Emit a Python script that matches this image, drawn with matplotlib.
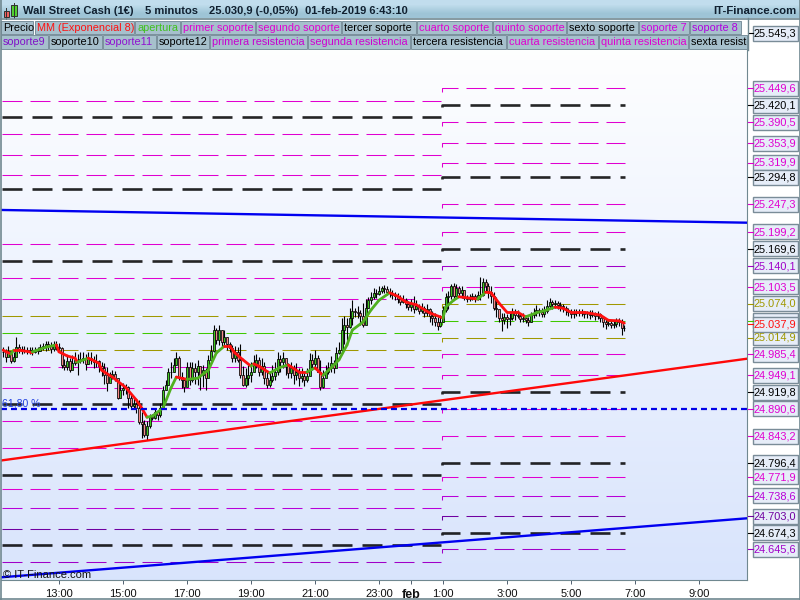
import numpy as np
import matplotlib
matplotlib.use('Agg')
import matplotlib.pyplot as plt
from matplotlib.patches import Rectangle
from matplotlib.transforms import Bbox, TransformedBbox

plt.rcParams['font.family'] = ['Liberation Sans', 'DejaVu Sans']
plt.rcParams['lines.scale_dashes'] = False

# ----- 5 minute bars, first bar 11:15 (hours relative to 1 feb 0:00) -----
first_bar = -12.75
closes = [24990,24981,24991,24974,24981,24998, 24995,24991,24993,24991,24993,24990,
          24993,24991,24998,25000,25004,25000, 24995,25004,24998,24997,24967,24963,
          24974,24958,24970,24976,24974,24977, 24979,24969,24979,24976,24972,24974,
          24965,24962,24949,24935,24946,24951, 24944,24909,24923,24927,24928,24909,
          24895,24899,24892,24867,24864,24845, 24860,24876,24874,24885,24879,24892,
          24923,24932,24955,24955,24967,24979, 24946,24941,24928,24963,24941,24962,
          24955,24965,24949,24958,24944,24976, 24991,25028,25011,25028,25007,25016,
          25004,24997,24979,24990,24976,24949, 24932,24944,24949,24955,24967,24976,
          24955,24965,24944,24932,24941,24948, 24955,24977,24972,24979,24969,24953,
          24962,24949,24955,24944,24948,24941, 24948,24976,24969,24979,24955,24928,
          24944,24955,24962,24970,24962,24988, 24993,25028,25037,25033,25049,25061,
          25059,25058,25052,25037,25066,25080, 25086,25093,25091,25096,25101,25100,
          25094,25093,25089,25087,25082,25077, 25080,25073,25068,25073,25065,25070,
          25061,25066,25058,25065,25052,25049, 25042,25035,25042,25063,25086,25087,
          25105,25087,25101,25093,25098,25084, 25082,25086,25087,25082,25089,25089,
          25112,25105,25094,25087,25066,25065, 25049,25045,25051,25047,25049,25059,
          25054,25052,25047,25049,25045,25042, 25054,25058,25063,25059,25056,25061,
          25070,25077,25073,25075,25072,25070, 25066,25063,25059,25056,25058,25059,
          25058,25059,25056,25056,25054,25058, 25052,25056,25049,25042,25038,25040,
          25037,25038,25044,25042,25031,25030.9]
highs = [24998,24995,25000,24984,24990,25016, 25004,25000,25000,24998,24998,24998,
         24998,24998,25004,25005,25009,25009, 25007,25009,25009,25005,24998,24977,
         24984,24979,24984,24990,24986,24990, 24990,24986,24990,24990,24983,24986,
         24976,24972,24970,24963,24955,24958, 24956,24944,24935,24935,24934,24930,
         24916,24909,24902,24906,24885,24871, 24869,24881,24881,24892,24888,24900,
         24930,24941,24962,24972,24979,24990, 24983,24955,24944,24972,24972,24972,
         24970,24976,24965,24967,24962,24984, 25002,25037,25031,25037,25028,25028,
         25016,25007,25002,25000,24998,25004, 24965,24962,24967,24972,24984,24986,
         24981,24979,24972,24958,24955,24967, 24972,24990,24984,24990,24979,24970,
         24972,24967,24970,24962,24962,24953, 24962,24988,24986,24993,24984,24976,
         24958,24967,24972,24983,24976,24998, 25007,25049,25052,25049,25066,25080,
         25066,25070,25063,25075,25082,25086, 25094,25101,25100,25105,25105,25107,
         25105,25101,25098,25094,25093,25089, 25089,25084,25079,25082,25087,25080,
         25073,25075,25070,25073,25066,25061, 25058,25051,25054,25070,25093,25096,
         25108,25110,25108,25105,25105,25098, 25089,25091,25093,25091,25096,25120,
         25119,25117,25110,25105,25094,25086, 25061,25058,25058,25056,25058,25066,
         25065,25063,25058,25058,25054,25051, 25059,25066,25072,25066,25066,25070,
         25080,25084,25080,25080,25079,25077, 25073,25070,25066,25065,25065,25065,
         25065,25065,25061,25061,25063,25063, 25059,25061,25058,25052,25047,25045,
         25044,25045,25049,25049,25047,25037]
lows = [24981,24972,24983,24970,24972,24990, 24988,24986,24988,24986,24986,24984,
        24988,24986,24991,24993,24991,24993, 24988,24991,24993,24991,24962,24958,
        24958,24955,24962,24967,24949,24970, 24970,24958,24969,24969,24962,24963,
        24955,24948,24934,24921,24937,24942, 24939,24907,24913,24914,24916,24892,
        24890,24892,24883,24864,24839,24841, 24836,24858,24871,24872,24871,24876,
        24902,24923,24932,24944,24955,24967, 24941,24927,24920,24941,24932,24937,
        24934,24932,24923,24928,24923,24955, 24972,24990,25004,25002,24998,25002,
        24993,24990,24972,24972,24972,24944, 24930,24928,24932,24937,24955,24962,
        24948,24949,24934,24927,24928,24937, 24941,24949,24955,24962,24949,24944,
        24944,24934,24941,24930,24937,24930, 24937,24955,24958,24962,24955,24923,
        24927,24946,24951,24955,24953,24972, 24986,24990,25004,25011,25031,25037,
        25051,25049,25037,25033,25052,25066, 25073,25082,25084,25089,25093,25093,
        25089,25086,25082,25080,25075,25072, 25075,25066,25063,25061,25058,25063,
        25056,25058,25051,25052,25042,25037, 25035,25028,25033,25042,25059,25065,
        25082,25080,25084,25086,25084,25080, 25077,25079,25080,25077,25080,25080,
        25087,25094,25084,25075,25063,25051, 25042,25026,25038,25031,25037,25045,
        25045,25049,25042,25042,25040,25035, 25042,25049,25052,25052,25051,25051,
        25058,25065,25065,25066,25065,25061, 25059,25054,25052,25049,25049,25052,
        25052,25052,25049,25049,25047,25051, 25045,25047,25042,25033,25030,25035,
        25031,25031,25033,25035,25019,25026]

# MM exponencial, read at some of the bars
ema_bars = [0,3,4,6,10,11,16,20,21,24,27,28,29,32,33,36,37,41,46,50,52,54,56,60,63,65,69,73,77,80,
            83,85,87,90,93,94,96,100,104,107,111,114,117,120,123,126,129,131,135,138,141,145,148,
            151,155,160,165,166,169,171,178,181,183,186,189,193,196,200,204,207,210,213,218,224,227,231,233]
ema_vals = [24993,24986,24993,24993,24990,24990,24998,25002,24990,24983,24979,24972,24974,24979,24977,
            24970,24958,24946,24928,24906,24892,24876,24878,24892,24927,24946,24942,24944,24958,24988,
            25000,25000,24988,24976,24965,24969,24965,24953,24963,24967,24955,24955,24962,24949,24962,
            24976,25002,25028,25042,25063,25080,25093,25087,25077,25072,25058,25049,25068,25080,25086,
            25082,25094,25093,25075,25059,25059,25051,25058,25063,25068,25066,25059,25059,25054,25045,25044,25040]

# ----- soportes / resistencias -----
left_levels = [25426.9,25399.0,25369.4,25332.8,25297.9,25273.5,25177.5,25147.9,25118.2,25081.6,25052.0,25022.3,
               24992.7,24963.0,24926.4,24898.5,24868.8,24821.8,24774.7,24750.3,24717.1,24680.5,24652.6,24623.0]
left_colors = ['m','k','m','m','m','k','m','k','m','m','o','g','o','m','m','k','m','m','k','m','l','d','k','p']
right_levels = [25449.6,25420.1,25390.5,25353.9,25319.9,25294.8,25247.3,25199.2,25169.6,25140.1,25103.5,25074.0,
                25044.4,25014.9,24985.4,24949.1,24919.8,24890.6,24843.2,24796.4,24771.9,24738.6,24703.0,24674.3,24645.6]
right_colors = ['m','k','m','m','m','k','m','m','k','p','m','o','g','o','m','m','k','m','m','k','m','l','d','k','p']
palette = {'m':'#e000d0','k':'#000000','o':'#a09800','g':'#40c800','l':'#b800d8','d':'#7000a0','p':'#a000c8'}

extra_price = 25545.3
last_price = 25037.9
fib_price = 24890.6
hidden_price = 25044.4  # its label sits behind the last price label

# trend lines, (price at left edge, price at right edge)
blue_up = [25237.4, 25215.2]
red_up = [24800.5, 24978.0]
blue_low = [24596.8, 24699.7]

tick_hours = [-11,-9,-7,-5,-3,-1,0,1,3,5,7,9]
tick_labels = ['13:00','15:00','17:00','19:00','21:00','23:00','feb','1:00','3:00','5:00','7:00','9:00']

legend_row1 = [('Precio',1,33,'#000000'),('MM (Exponencial 8)',35,134,'#ff1010'),('apertura',135,180,'#40c020'),
               ('primer soporte',181,255,'#e000d0'),('segundo soporte',256,341,'#e000d0'),('tercer soporte',342,416,'#000000'),
               ('cuarto soporte',417,492,'#e000d0'),('quinto soporte',493,566,'#e000d0'),('sexto soporte',567,638,'#000000'),
               ('soporte 7',639,689,'#d000e0'),('soporte 8',690,741,'#b000e0')]
legend_row2 = [('soporte9',1,48,'#8010c8'),('soporte10',49,102,'#000000'),('soporte11',103,156,'#9010d0'),
               ('soporte12',157,209,'#000000'),('primera resistencia',210,307,'#c800d0'),('segunda resistencia',308,410,'#d000d0'),
               ('tercera resistencia',411,506,'#000000'),('cuarta resistencia',507,598,'#e000d0'),
               ('quinta resistencia',599,688,'#e000d0'),('sexta resistencia',689,770,'#000000')]

def fmt(v):
    return f'{v:,.1f}'.replace(',', ' ').replace('.', ',').replace(' ', '.')

fig = plt.figure(figsize=(8, 6), dpi=100, facecolor='white')
ax = fig.add_axes([1/800, 1-580/600, 746/800, 531/600])
xmin, xmax = -12.8125, 10.5
ymin, ymax = 24592.1, 25518.1

# background gradient
grad = np.linspace(0, 1, 256).reshape(-1, 1)
top = np.array([0.995, 0.997, 1.0])
bot = np.array([0.85, 0.895, 0.99])
ax.imshow(top + (bot-top)*grad[:, :, None], extent=[0, 1, 0, 1], transform=ax.transAxes,
          aspect='auto', zorder=0)
ax.set_xlim(xmin, xmax)
ax.set_ylim(ymin, ymax)

# levels
split = 0.97
left_end = 0.95
right_end = 6.68
for p, c in zip(left_levels, left_colors):
    thick = c == 'k'
    ax.plot([xmin+0.03, left_end], [p, p], color=palette[c], lw=1.9 if thick else 0.75, alpha=0.85 if thick else 1,
            ls=(0, (14.4, 7.2)) if thick else (0, (14.4, 5.76)), zorder=2)
for p, c in zip(right_levels, right_colors):
    thick = c == 'k'
    hook = 3.0 if thick else 7.0
    ax.plot([split, split, right_end], [p-hook, p, p], color=palette[c], lw=1.9 if thick else 0.75, alpha=0.85 if thick else 1,
            ls=(0, (14.4, 7.2)) if thick else (0, (14.4, 5.76)), zorder=2)

# candles
closes = np.array(closes)
opens = np.r_[closes[0], closes[:-1]]
t = first_bar + np.arange(len(closes))/12
ax.vlines(t, lows, highs, color='black', lw=0.8, zorder=3)
up = closes >= opens
ax.bar(t[up], (closes-opens)[up], bottom=opens[up], width=0.062, color='#40c820', edgecolor='black', lw=0.55, zorder=4)
ax.bar(t[~up], (opens-closes)[~up], bottom=closes[~up], width=0.062, color='#f58a8a', edgecolor='black', lw=0.55, zorder=4)

# MM line, green rising and red falling
ema_t = first_bar + np.array(ema_bars)/12
for i in range(len(ema_vals)-1):
    col = '#50b020' if ema_vals[i+1] > ema_vals[i] else '#ff1010'
    ax.plot(ema_t[i:i+2], ema_vals[i:i+2], color=col, lw=2.0, solid_capstyle='round', zorder=5)

# trend lines
ax.plot([xmin, xmax], blue_up, color='#0000f0', lw=1.7, zorder=6)
ax.plot([xmin, xmax], red_up, color='#ff0808', lw=1.7, zorder=6)
ax.plot([xmin, xmax], blue_low, color='#0000f0', lw=1.7, zorder=6)
ax.plot([xmin, xmax], [fib_price, fib_price], color='#0000e8', lw=1.6, ls=(0, (4.3, 2.9)), zorder=6)
ax.text(xmin+0.03, fib_price+10, '61,80 %', color='#2040e0', fontsize=7.6, va='center', zorder=7)
ax.text(xmin+0.05, 24600, '© IT-Finance.com', color='#101010', fontsize=8, va='center', zorder=7)

# axis
for s in ['top', 'left']:
    ax.spines[s].set_visible(False)
for s in ['right', 'bottom']:
    ax.spines[s].set_color('#708890')
ax.set_xticks(tick_hours)
ax.set_xticklabels(tick_labels, fontsize=8, color='#101010')
ax.get_xticklabels()[6].set_fontweight('bold')
ax.get_xticklabels()[6].set_fontsize(9)
ax.tick_params(axis='x', length=3, width=0.7, color='#506070', pad=3.5)
ax.set_yticks([])

# header and price labels drawn on a pixel overlay
ov = fig.add_axes([0, 0, 1, 1], facecolor='none', zorder=20)
ov.imshow(np.array([[[0.76, 0.87, 0.93]], [[0.62, 0.77, 0.84]]]), extent=[0, 800, 18, 0], aspect='auto', interpolation='bilinear')
ov.set_xlim(0, 800)
ov.set_ylim(600, 0)
ov.axis('off')

y_px = lambda p: 600 - ax.transData.transform((0, p))[1]
for p, c in [(hidden_price, 'g')] + [(q, k) for q, k in zip(right_levels, right_colors) if q != hidden_price] + [(extra_price, 'k'), (last_price, 'r')]:
    col = '#ff1010' if c == 'r' else palette[c]
    y = y_px(p)
    ov.plot([748, 752.5], [y, y], color=col, lw=0.8)
    ov.add_patch(Rectangle((752.5, y-7.5), 45, 15, fc='#e6edf8', ec='#7a8c98', lw=1.0))
    if p != hidden_price:
        ov.text(775, y+0.3, fmt(p), color=col, fontsize=7.9, ha='center', va='center')

ov.plot([0, 800], [18.5, 18.5], color='#708890', lw=1.2)
ov.plot([0.5, 0.5], [0, 600], color='#708890', lw=1.2)
ov.plot([799.5, 799.5], [0, 600], color='#708890', lw=1.2)
ov.plot([0, 800], [599.4, 599.4], color='#708890', lw=1.2)
ov.plot([747.5, 747.5], [18, 50], color='#708890', lw=1.0)
ov.add_patch(Rectangle((3.5, 10.5), 5.5, 6.5, fc='#f06060', ec='#303030', lw=0.7))
ov.plot([6.2, 6.2], [8, 19], color='#303030', lw=0.7, zorder=1)
ov.add_patch(Rectangle((11, 5), 5.5, 10.5, fc='#50d030', ec='#303030', lw=0.7))
ov.plot([13.7, 13.7], [2.5, 18], color='#303030', lw=0.7, zorder=1)
for txt, x in [('Wall Street Cash (1€)', 23), ('5 minutos', 145), ('25.030,9 (-0,05%)', 209), ('01-feb-2019 6:43:10', 305)]:
    ov.text(x, 11, txt, fontsize=8.0, color='#102030', va='center', fontweight='bold')
ov.text(797, 11, 'IT-Finance.com', fontsize=8.2, color='#102030', va='center', ha='right', fontweight='bold')

clip = TransformedBbox(Bbox([[0, 0], [747, 600]]), ov.transData)
for row, y0, y1 in [(legend_row1, 21, 34), (legend_row2, 35, 48.5)]:
    for txt, a, b, col in row:
        b = min(b, 747)
        ov.add_patch(Rectangle((a, y0), b-a-0.5, y1-y0, fc='#a6c0cc', ec='#7a909c', lw=0.7))
        tx = ov.text(a+2, (y0+y1)/2+0.3, txt, fontsize=7.8, color=col, va='center', clip_on=True)
        tx.set_clip_box(clip)

fig.savefig('out.png', dpi=100)
